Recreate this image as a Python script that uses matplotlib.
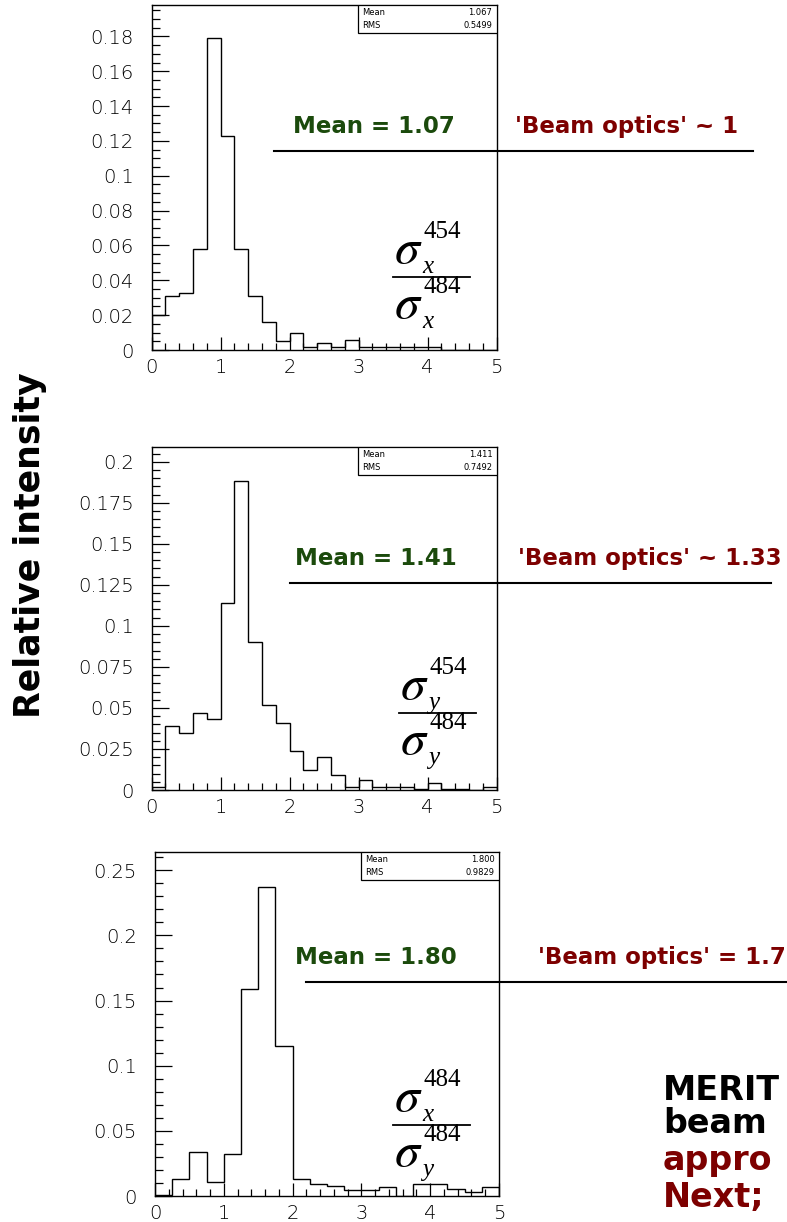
import numpy as np
import matplotlib
matplotlib.use("Agg")
import matplotlib.pyplot as plt
from matplotlib.ticker import MultipleLocator, FuncFormatter
from matplotlib.patches import Rectangle
from matplotlib.lines import Line2D

W, H = 787, 1222

# ---- data: ratio histograms (relative intensity per bin) ----
edges_x454 = np.round(np.arange(0, 5.0001, 0.2), 3)
vals_x454 = [0.020, 0.031, 0.033, 0.058, 0.179, 0.123, 0.058, 0.031, 0.016, 0.005,
             0.0096, 0.002, 0.004, 0.002, 0.0057, 0.002, 0.002, 0.002, 0.002, 0.002,
             0.002, 0.0, 0.0, 0.0, 0.0]

edges_y454 = np.round(np.arange(0, 5.0001, 0.2), 3)
vals_y454 = [0.002, 0.039, 0.035, 0.047, 0.043, 0.114, 0.188, 0.090, 0.052, 0.041,
             0.024, 0.012, 0.020, 0.009, 0.002, 0.006, 0.002, 0.002, 0.002, 0.0006,
             0.0045, 0.0006, 0.0006, 0.0, 0.002]

edges_xy484 = np.round(np.arange(0, 5.0001, 0.25), 3)
vals_xy484 = [0.001, 0.013, 0.034, 0.011, 0.032, 0.159, 0.237, 0.115, 0.013, 0.0095,
              0.0075, 0.0044, 0.0044, 0.007, 0.0, 0.0095, 0.0095, 0.0057, 0.0031, 0.007]

stat_means = ["1.067", "1.411", "1.800"]
stat_rms = ["0.5499", "0.7492", "0.9829"]
mean_labels = ["Mean = 1.07", "Mean = 1.41", "Mean = 1.80"]
optics_labels = ["'Beam optics' ~ 1", "'Beam optics' ~ 1.33", "'Beam optics' = 1.7"]
ratio_num = [("454", "x"), ("454", "y"), ("484", "x")]
ratio_den = [("484", "x"), ("484", "y"), ("484", "y")]
y_tops = [0.198, 0.209, 0.264]
y_major = [0.02, 0.025, 0.05]
y_minor = [0.005, 0.005, 0.01]
side_lines = ["MERIT", "beam", "appro", "Next;"]

GREEN = "#1b4a0c"
DARKRED = "#7d0000"

fig = plt.figure(figsize=(W / 100, H / 100), dpi=100)


def fx(x):
    return x / W


def fy(y):
    return 1 - y / H


# axes boxes in pixel units: left, right, top, bottom
boxes = [(151.7, 496.5, 5, 350), (151.7, 496.5, 447, 790), (155, 499, 852, 1196)]
series = [(edges_x454, vals_x454), (edges_y454, vals_y454), (edges_xy484, vals_xy484)]

for i, ((l, r, t, b), (edges, vals)) in enumerate(zip(boxes, series)):
    ax = fig.add_axes([fx(l), fy(b), (r - l) / W, (b - t) / H])
    ax.stairs(vals, edges, color="black", linewidth=1.0, baseline=0)
    ax.set_xlim(0, 5)
    ax.set_ylim(0, y_tops[i])
    ax.xaxis.set_major_locator(MultipleLocator(1))
    ax.xaxis.set_minor_locator(MultipleLocator(0.2))
    ax.yaxis.set_major_locator(MultipleLocator(y_major[i]))
    ax.yaxis.set_minor_locator(MultipleLocator(y_minor[i]))
    ax.yaxis.set_major_formatter(FuncFormatter(lambda v, p: f"{round(v, 4):g}"))
    ax.xaxis.set_major_formatter(FuncFormatter(lambda v, p: f"{round(v, 4):g}"))
    ax.tick_params(axis="x", which="major", direction="in", length=9.4, width=0.9,
                   pad=6, labelsize=14, labelcolor="black")
    ax.tick_params(axis="x", which="minor", direction="in", length=5, width=0.9)
    ax.tick_params(axis="y", which="major", direction="in", length=12, width=0.9,
                   pad=13, labelsize=14, labelcolor="black")
    ax.tick_params(axis="y", which="minor", direction="in", length=5.8, width=0.9)
    for lab in ax.get_xticklabels() + ax.get_yticklabels():
        lab.set_fontweight("light")
    for sp in ax.spines.values():
        sp.set_linewidth(1.0)

    # statistics box
    bx0 = 0.598
    bh = 28 / (b - t)
    ax.add_patch(Rectangle((bx0, 1 - bh), 1 - bx0, bh, transform=ax.transAxes,
                           facecolor="white", edgecolor="black", linewidth=0.9, zorder=5))
    ax.text(bx0 + 0.012, 1 - bh * 0.27, "Mean", transform=ax.transAxes, fontsize=6,
            ha="left", va="center", zorder=6)
    ax.text(0.988, 1 - bh * 0.27, stat_means[i], transform=ax.transAxes, fontsize=6,
            ha="right", va="center", zorder=6)
    ax.text(bx0 + 0.012, 1 - bh * 0.72, "RMS", transform=ax.transAxes, fontsize=6,
            ha="left", va="center", zorder=6)
    ax.text(0.988, 1 - bh * 0.72, stat_rms[i], transform=ax.transAxes, fontsize=6,
            ha="right", va="center", zorder=6)

# annotations: mean, beam optics and underline (pixel positions)
notes = [
    dict(mx=293, ox=515, base=133, ly=151, lx0=274, lx1=753),
    dict(mx=295, ox=518, base=565, ly=583, lx0=290, lx1=771),
    dict(mx=295, ox=538, base=964, ly=982, lx0=306, lx1=787),
]
for i, n in enumerate(notes):
    fig.text(fx(n["mx"]), fy(n["base"]), mean_labels[i], color=GREEN, fontsize=16.5,
             fontweight="bold", ha="left", va="baseline")
    fig.text(fx(n["ox"]), fy(n["base"]), optics_labels[i], color=DARKRED, fontsize=16.5,
             fontweight="bold", ha="left", va="baseline")
    fig.add_artist(Line2D([fx(n["lx0"]), fx(n["lx1"])], [fy(n["ly"]), fy(n["ly"])],
                          color="black", linewidth=1.5, transform=fig.transFigure))

# sigma ratio labels
fracs = [(393, 470, 277), (399, 476, 713), (393, 470, 1125)]
serif = "Liberation Serif"
for i, (x0, x1, yl) in enumerate(fracs):
    fig.add_artist(Line2D([fx(x0), fx(x1)], [fy(yl), fy(yl)], color="black",
                          linewidth=1.3, transform=fig.transFigure))
    for (sup, sub), off in ((ratio_num[i], -14), (ratio_den[i], 41)):
        fig.text(fx(x0 + 1), fy(yl + off), r"$\sigma$", math_fontfamily="stix",
                 fontsize=36, ha="left", va="baseline")
        fig.text(fx(x0 + 30), fy(yl + off - 25), sup, family=serif, fontsize=18,
                 ha="left", va="baseline")
        fig.text(fx(x0 + 29), fy(yl + off + 10), sub, family=serif, style="italic",
                 fontsize=18, ha="left", va="baseline")

# shared y label
fig.text(fx(30), fy(545), "Relative intensity", rotation=90, fontsize=25,
         fontweight="bold", ha="center", va="center")

# side text block
side_colors = ["black", "black", DARKRED, DARKRED]
side_base = [1100, 1133, 1170, 1207]
for s, c, yb in zip(side_lines, side_colors, side_base):
    fig.text(fx(663), fy(yb), s, color=c, fontsize=24, fontweight="bold",
             ha="left", va="baseline")

fig.savefig("out.png", dpi=100)
